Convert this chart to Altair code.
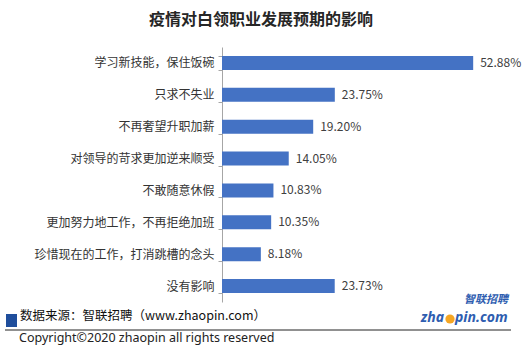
import altair as alt
import pandas as pd

categories = [
    "学习新技能，保住饭碗",
    "只求不失业",
    "不再奢望升职加薪",
    "对领导的苛求更加逆来顺受",
    "不敢随意休假",
    "更加努力地工作，不再拒绝加班",
    "珍惜现在的工作，打消跳槽的念头",
    "没有影响",
]
values = [52.88, 23.75, 19.20, 14.05, 10.83, 10.35, 8.18, 23.73]
labels = [f"{v:.2f}%" for v in values]

title_text = "疫情对白领职业发展预期的影响"
source_text = "数据来源：智联招聘（www.zhaopin.com）"
copyright_text = "Copyright©2020 zhaopin all rights reserved"

FONT = "Noto Sans CJK SC"
BLUE = "#4472C4"

df = pd.DataFrame({"cat": categories, "val": values, "label": labels})
one = pd.DataFrame({"k": [0]})

xenc = alt.X("val:Q", scale=alt.Scale(domain=[0, 60]), axis=None)
yenc = alt.Y(
    "cat:N",
    sort=categories,
    title=None,
    scale=alt.Scale(paddingInner=0.56, paddingOuter=0.28),
    axis=alt.Axis(
        domainColor="#A6A6A6",
        tickColor="#A6A6A6",
        tickSize=4,
        tickBand="extent",
        labelFont=FONT,
        labelFontSize=12,
        labelColor="#333333",
        labelPadding=4,
        labelLimit=400,
    ),
)

bars = alt.Chart(df).mark_bar(color=BLUE).encode(x=xenc, y=yenc)
vals = alt.Chart(df).mark_text(
    align="left", baseline="middle", dx=7, font=FONT, fontSize=12, color="#404040"
).encode(x=xenc, y=alt.Y("cat:N", sort=categories), text="label:N")

base = alt.Chart(one)
title = base.mark_text(
    align="center", baseline="middle", font=FONT, fontSize=16, fontWeight="bold", color="#262626"
).encode(x=alt.value(39), y=alt.value(-27), text=alt.value(title_text))

square = base.mark_rect(color="#1F4E9C").encode(
    x=alt.value(-216), x2=alt.value(-205), y=alt.value(267), y2=alt.value(280)
)
source = base.mark_text(
    align="left", baseline="middle", font=FONT, fontSize=12.5, color="#111111"
).encode(x=alt.value(-202), y=alt.value(269), text=alt.value(source_text))
hline = base.mark_rule(color="#222222", strokeWidth=1).encode(
    x=alt.value(-217), x2=alt.value(289), y=alt.value(283)
)
copy = base.mark_text(
    align="left", baseline="middle", font="Noto Sans", fontSize=12.5, color="#222222"
).encode(x=alt.value(-203), y=alt.value(291), text=alt.value(copyright_text))

logo_cn = base.mark_text(
    align="right", baseline="alphabetic", font=FONT, fontSize=11, fontWeight="bold",
    fontStyle="italic", color="#2E5DB0",
).encode(x=alt.value(286), y=alt.value(256), text=alt.value("智联招聘"))
logo_a = base.mark_text(
    align="right", baseline="alphabetic", font="Noto Sans", fontSize=14, fontWeight="bold",
    fontStyle="italic", color="#2E5DB0",
).encode(x=alt.value(222), y=alt.value(275), text=alt.value("zha"))
logo_dot = base.mark_circle(color="#F5A623", opacity=1, size=85).encode(
    x=alt.value(228), y=alt.value(272)
)
logo_b = base.mark_text(
    align="left", baseline="alphabetic", font="Noto Sans", fontSize=14, fontWeight="bold",
    fontStyle="italic", color="#2E5DB0",
).encode(x=alt.value(233), y=alt.value(275), text=alt.value("pin.com"))

chart = alt.layer(
    bars, vals, title, square, source, hline, copy, logo_cn, logo_a, logo_dot, logo_b
).properties(
    width=285,
    height=255,
    background="white",
    autosize=alt.AutoSizeParams(type="none"),
    padding={"left": 222, "top": 47, "right": 20, "bottom": 46},
).configure_view(stroke=None)

chart.save("out.html", embed_options={"renderer": "svg", "actions": False})
